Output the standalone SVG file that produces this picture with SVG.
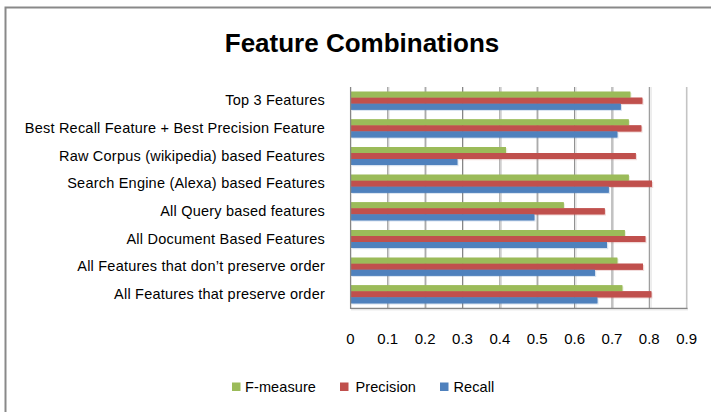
<svg xmlns="http://www.w3.org/2000/svg" xmlns:xlink="http://www.w3.org/1999/xlink" width="711" height="412" viewBox="0 0 711 412">
  <style>
    text { font-family: "Liberation Sans", Arial, sans-serif; fill: #000; }
    .title { font-size: 26px; font-weight: bold; text-anchor: middle; }
    .cat { font-size: 14.5px; text-anchor: end; letter-spacing: 0.22px; }
    .tick { font-size: 15px; text-anchor: middle; }
    .leg { font-size: 14.5px; letter-spacing: 0.1px; }
    .grid { stroke: #868686; stroke-width: 1; }
    .gridsh { stroke: #dcdcdc; stroke-width: 1; }
    .fm { fill: #9BBB59; }
    .pr { fill: #C0504D; }
    .rc { fill: #4F81BD; }
  </style>

  <!-- chart area -->
  <rect x="0" y="0" width="711" height="412" fill="#ffffff"/>
  <rect x="5.5" y="7.5" width="730" height="430" fill="none" stroke="#898989" stroke-width="2"/>

  <text class="title" x="362" y="52">Feature Combinations</text>

  <!-- vertical gridlines (0.1 steps) -->
  <g id="gridlines">
    <line class="gridsh" x1="389" y1="87" x2="389" y2="308"/>
    <line class="gridsh" x1="426.5" y1="87" x2="426.5" y2="308"/>
    <line class="gridsh" x1="463.5" y1="87" x2="463.5" y2="308"/>
    <line class="gridsh" x1="501.5" y1="87" x2="501.5" y2="308"/>
    <line class="gridsh" x1="538.5" y1="87" x2="538.5" y2="308"/>
    <line class="gridsh" x1="576" y1="87" x2="576" y2="308"/>
    <line class="gridsh" x1="613.5" y1="87" x2="613.5" y2="308"/>
    <line class="gridsh" x1="651" y1="87" x2="651" y2="308"/>
    <line class="grid" x1="387.8" y1="87" x2="387.8" y2="308"/>
    <line class="grid" x1="425.2" y1="87" x2="425.2" y2="308"/>
    <line class="grid" x1="462.5" y1="87" x2="462.5" y2="308"/>
    <line class="grid" x1="499.9" y1="87" x2="499.9" y2="308"/>
    <line class="grid" x1="537.2" y1="87" x2="537.2" y2="308"/>
    <line class="grid" x1="574.6" y1="87" x2="574.6" y2="308"/>
    <line class="grid" x1="612" y1="87" x2="612" y2="308"/>
    <line class="grid" x1="649.3" y1="87" x2="649.3" y2="308"/>
    <line x1="686.7" y1="87" x2="686.7" y2="309" stroke="#c4c4c4" stroke-width="1.6"/>
  </g>

  <!-- bars: F-measure, Precision, Recall per category -->
  <g id="bars">
    <g id="cat-top3">
      <rect class="fm" x="351" y="91.7" width="279.3" height="6"/>
      <rect class="pr" x="351" y="97.7" width="291.3" height="6"/>
      <rect class="rc" x="351" y="103.7" width="269.7" height="6"/>
    </g>
    <g id="cat-best-recall-precision">
      <rect class="fm" x="351" y="119.4" width="277.7" height="6"/>
      <rect class="pr" x="351" y="125.4" width="290.3" height="6"/>
      <rect class="rc" x="351" y="131.4" width="266.3" height="6"/>
    </g>
    <g id="cat-raw-corpus">
      <rect class="fm" x="351" y="147" width="155" height="6"/>
      <rect class="pr" x="351" y="153" width="284.7" height="6"/>
      <rect class="rc" x="351" y="159" width="106.3" height="6"/>
    </g>
    <g id="cat-search-engine">
      <rect class="fm" x="351" y="174.7" width="277.7" height="6"/>
      <rect class="pr" x="351" y="180.7" width="301" height="6"/>
      <rect class="rc" x="351" y="186.7" width="257.7" height="6"/>
    </g>
    <g id="cat-query">
      <rect class="fm" x="351" y="202.3" width="212.7" height="6"/>
      <rect class="pr" x="351" y="208.3" width="253.7" height="6"/>
      <rect class="rc" x="351" y="214.3" width="183.3" height="6"/>
    </g>
    <g id="cat-document">
      <rect class="fm" x="351" y="230" width="273.7" height="6"/>
      <rect class="pr" x="351" y="236" width="294.3" height="6"/>
      <rect class="rc" x="351" y="242" width="256" height="6"/>
    </g>
    <g id="cat-no-order">
      <rect class="fm" x="351" y="257.7" width="266.3" height="6"/>
      <rect class="pr" x="351" y="263.7" width="292" height="6"/>
      <rect class="rc" x="351" y="269.7" width="244" height="6"/>
    </g>
    <g id="cat-order">
      <rect class="fm" x="351" y="285.3" width="271.3" height="6"/>
      <rect class="pr" x="351" y="291.3" width="300.3" height="6"/>
      <rect class="rc" x="351" y="297.3" width="246.3" height="6"/>
    </g>
  </g>
  <!-- soft offset shadow under the bars -->
  <use xlink:href="#bars" href="#bars" transform="translate(1.2,1.2)" opacity="0.22"/>
  <use xlink:href="#bars" href="#bars"/>

  <!-- axes -->
  <g id="axes">
    <line x1="350.6" y1="87" x2="350.6" y2="309" stroke="#868686" stroke-width="1.3"/>
    <line x1="350" y1="308.4" x2="687.5" y2="308.4" stroke="#868686" stroke-width="1.3"/>
    <line x1="351" y1="309.8" x2="688" y2="309.8" stroke="#dcdcdc" stroke-width="1"/>
  </g>

  <!-- category labels -->
  <g id="categories">
    <text class="cat" x="325" y="105.3">Top 3 Features</text>
    <text class="cat" x="325" y="133">Best Recall Feature + Best Precision Feature</text>
    <text class="cat" x="325" y="160.6">Raw Corpus (wikipedia) based Features</text>
    <text class="cat" x="325" y="188.3">Search Engine (Alexa) based Features</text>
    <text class="cat" x="325" y="215.9">All Query based features</text>
    <text class="cat" x="325" y="243.6">All Document Based Features</text>
    <text class="cat" x="325" y="271.3">All Features that don’t preserve order</text>
    <text class="cat" x="325" y="298.9">All Features that preserve order</text>
  </g>

  <!-- value axis labels -->
  <g id="ticks">
    <text class="tick" x="350.5" y="343.5">0</text>
    <text class="tick" x="387.8" y="343.5">0.1</text>
    <text class="tick" x="425.2" y="343.5">0.2</text>
    <text class="tick" x="462.5" y="343.5">0.3</text>
    <text class="tick" x="499.9" y="343.5">0.4</text>
    <text class="tick" x="537.2" y="343.5">0.5</text>
    <text class="tick" x="574.6" y="343.5">0.6</text>
    <text class="tick" x="612" y="343.5">0.7</text>
    <text class="tick" x="649.3" y="343.5">0.8</text>
    <text class="tick" x="686.7" y="343.5">0.9</text>
  </g>

  <!-- legend -->
  <g id="legend">
    <rect class="fm" x="232" y="382.5" width="8.5" height="8.5"/>
    <text class="leg" x="245" y="391.5">F-measure</text>
    <rect class="pr" x="340" y="382.5" width="8.5" height="8.5"/>
    <text class="leg" x="355.5" y="391.5">Precision</text>
    <rect class="rc" x="440" y="382.5" width="8.5" height="8.5"/>
    <text class="leg" x="453.5" y="391.5">Recall</text>
  </g>
</svg>
